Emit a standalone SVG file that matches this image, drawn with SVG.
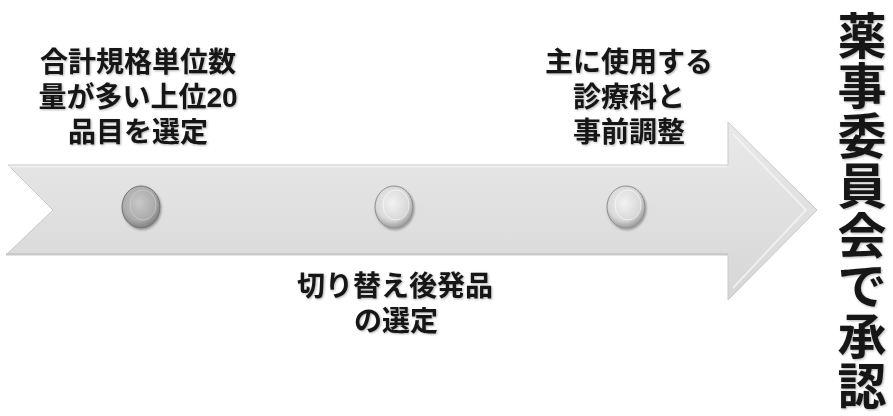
<svg xmlns="http://www.w3.org/2000/svg" width="893" height="416" viewBox="0 0 893 416">
  <style>
    .lbl { font-family: "Liberation Sans", "Noto Sans CJK JP", "Noto Sans CJK SC", sans-serif; font-weight: 700; fill: #161616; text-anchor: middle; }
    .s28 { font-size: 28px; }
    .big { font-size: 49px; }
  </style>
  <defs>
    <linearGradient id="body" x1="0" y1="0" x2="0" y2="1">
      <stop offset="0" stop-color="#e9e9ea"/>
      <stop offset="0.5" stop-color="#e0e0e1"/>
      <stop offset="1" stop-color="#d6d6d7"/>
    </linearGradient>
    <radialGradient id="dark" cx="0.45" cy="0.4" r="0.6">
      <stop offset="0" stop-color="#c8c8c8"/>
      <stop offset="0.7" stop-color="#ababab"/>
      <stop offset="1" stop-color="#808080"/>
    </radialGradient>
    <radialGradient id="light" cx="0.45" cy="0.4" r="0.6">
      <stop offset="0" stop-color="#f2f2f2"/>
      <stop offset="0.7" stop-color="#d8d8d8"/>
      <stop offset="1" stop-color="#9c9c9c"/>
    </radialGradient>
    <filter id="sh" x="-20%" y="-20%" width="140%" height="140%">
      <feDropShadow dx="1" dy="1.5" stdDeviation="1" flood-color="#000" flood-opacity="0.35"/>
    </filter>
    <filter id="tsh" x="-5%" y="-5%" width="110%" height="110%">
      <feDropShadow dx="1" dy="1" stdDeviation="0.8" flood-color="#000" flood-opacity="0.3"/>
    </filter>
  </defs>

  <g id="connectors">
    <g id="timeline-arrow">
      <path d="M8,165 L728,165 L728,122 L817,210 L728,300 L728,255 L6,255 L53,210 Z" fill="url(#body)" stroke="#c9c9ca" stroke-width="1"/>
      <path d="M733,134 L806,210 L733,288" fill="none" stroke="#f4f4f4" stroke-width="2" opacity="0.8"/>
      <line x1="8" y1="166.5" x2="727" y2="166.5" stroke="#f2f2f2" stroke-width="1.5"/>
      <line x1="6" y1="254" x2="728" y2="254" stroke="#c4c4c5" stroke-width="1.5"/>
    </g>
  </g>

  <g id="milestone-1" filter="url(#sh)">
    <ellipse cx="141" cy="207" rx="19" ry="21" fill="url(#dark)" stroke="#737373" stroke-width="1"/>
    <ellipse cx="143" cy="205" rx="13" ry="15" fill="none" stroke="#d4d4d4" stroke-width="1" opacity="0.6"/>
  </g>
  <g id="milestone-2" filter="url(#sh)">
    <ellipse cx="394" cy="207" rx="19" ry="21" fill="url(#light)" stroke="#8e8e8e" stroke-width="1"/>
    <ellipse cx="396" cy="205" rx="13" ry="15" fill="none" stroke="#ffffff" stroke-width="1" opacity="0.6"/>
  </g>
  <g id="milestone-3" filter="url(#sh)">
    <ellipse cx="626" cy="207" rx="19" ry="21" fill="url(#light)" stroke="#8e8e8e" stroke-width="1"/>
    <ellipse cx="628" cy="205" rx="13" ry="15" fill="none" stroke="#ffffff" stroke-width="1" opacity="0.6"/>
  </g>

  <g id="label-1" filter="url(#tsh)">
    <text class="lbl s28" x="138" y="72">合計規格単位数</text>
    <text class="lbl s28" x="138" y="107">量が多い上位20</text>
    <text class="lbl s28" x="138" y="142">品目を選定</text>
  </g>
  <g id="label-2" filter="url(#tsh)">
    <text class="lbl s28" x="395" y="296">切り替え後発品</text>
    <text class="lbl s28" x="396" y="331">の選定</text>
  </g>
  <g id="label-3" filter="url(#tsh)">
    <text class="lbl s28" x="629" y="72">主に使用する</text>
    <text class="lbl s28" x="629" y="107">診療科と</text>
    <text class="lbl s28" x="629" y="142">事前調整</text>
  </g>
  <g id="approval" filter="url(#tsh)">
    <text class="lbl big" x="862 862 862 862 862 862 862 862" y="54 104 154 204 254 304 354 404">薬事委員会で承認</text>
  </g>
</svg>
